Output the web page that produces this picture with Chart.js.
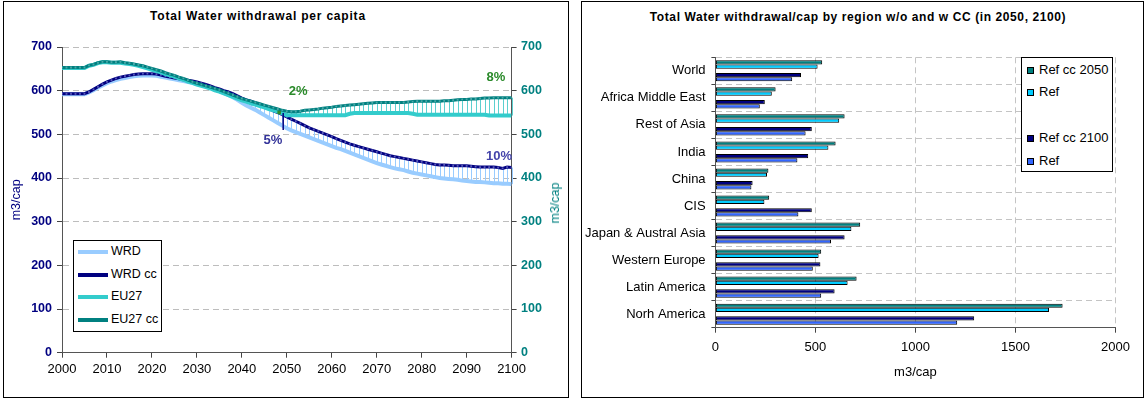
<!DOCTYPE html>
<html>
<head>
<meta charset="utf-8">
<script src="https://cdn.jsdelivr.net/npm/chart.js@4.4.1/dist/chart.umd.min.js"></script>
<style>
  html, body { margin: 0; padding: 0; background: #fff; width: 1146px; height: 399px; overflow: hidden;
    font-family: "Liberation Sans", Arial, sans-serif; }
  .panel { position: absolute; border: 1px solid #000; box-sizing: border-box; }
  .cv { position: absolute; }
  .title { position: absolute; font-weight: bold; white-space: nowrap; transform: translateX(-50%); color: #000; font-size: 12px; line-height: 14px; }
  .legend { position: absolute; border: 1px solid #000; box-sizing: border-box; background: #fff; }
  .item { position: absolute; white-space: nowrap; color: #000; }
  .ln { position: absolute; height: 4px; width: 30px; }
  .sw { position: absolute; width: 7px; height: 7px; border: 1px solid #000; box-sizing: border-box; }
  .vtitle { position: absolute; white-space: nowrap; transform: translate(-50%, -50%) rotate(-90deg); font-size: 12.5px; }
</style>
</head>
<body>
<div class="panel" style="left:3px;top:1px;width:566px;height:397px;"></div>
<div class="panel" style="left:581px;top:1px;width:563px;height:397px;"></div>

<div class="title" style="left:258px;top:9px;letter-spacing:0.8px;">Total Water withdrawal per capita</div>
<div class="title" style="left:858px;top:10px;letter-spacing:0.6px;">Total Water withdrawal/cap by region w/o and w CC (in 2050, 2100)</div>

<div class="cv" style="left:4px;top:3px;"><canvas id="c1" width="563" height="393"></canvas></div>
<div class="cv" style="left:582px;top:3px;"><canvas id="c2" width="560" height="393"></canvas></div>

<div class="vtitle" style="left:555px;top:203px;color:#008080;">m3/cap</div>

<!-- legend of the per-capita line chart -->
<div class="legend" style="left:73px;top:240px;width:89px;height:92px;">
  <div class="ln" style="left:4px;top:9px;background:#99CCFF;"></div><div class="item" style="left:37px;top:3px;font-size:12.5px;">WRD</div>
  <div class="ln" style="left:4px;top:32px;background:#000080;"></div><div class="item" style="left:37px;top:26px;font-size:12.5px;">WRD cc</div>
  <div class="ln" style="left:4px;top:54px;background:#33CCCC;"></div><div class="item" style="left:37px;top:48px;font-size:12.5px;">EU27</div>
  <div class="ln" style="left:4px;top:77px;background:#008080;"></div><div class="item" style="left:37px;top:71px;font-size:12.5px;">EU27 cc</div>
</div>

<!-- legend of the regional bar chart -->
<div class="legend" style="left:1021px;top:57px;width:92px;height:115px;">
  <div class="sw" style="left:5px;top:9px;background:#008080;"></div><div class="item" style="left:17px;top:4px;font-size:13px;">Ref cc 2050</div>
  <div class="sw" style="left:5px;top:31px;background:#00CCFF;"></div><div class="item" style="left:17px;top:26px;font-size:13px;">Ref</div>
  <div class="sw" style="left:5px;top:77px;background:#000080;"></div><div class="item" style="left:17px;top:72px;font-size:13px;">Ref cc 2100</div>
  <div class="sw" style="left:5px;top:100px;background:#3366FF;"></div><div class="item" style="left:17px;top:95px;font-size:13px;">Ref</div>
</div>

<script>
// ---- per-capita withdrawal, yearly 2000-2100 (m3/cap) ----
const years = Array.from({ length: 101 }, (_, i) => 2000 + i);

const wrd = [592,592,592,592,592,592, 596,601,607,612,617,
  621,624,627,629,631,633,634,635,635,635,
  634,632,630,628,626,624,622,620,618,616,
  613,610,607,603,599,595,590,585,579,572,
  566,561,556,550,544,538,532,526,520,514,
  509,505,501,497,493,489,485,481,477,473,
  469,466,462,458,454,450,446,442,438,434,
  431,428,425,422,420,418,415,412,410,408,
  406,404,402,400,399,398,397,396,394,393,
  392,391,391,390,389,388,388,387,387,386];

const wrdCc = [593,593,593,593,593,593, 597,603,609,615,620,
  624,628,631,633,635,637,638,639,639,639,
  638,636,633,631,629,627,625,624,622,620,
  617,614,611,607,604,600,597,593,588,583,
  579,576,572,568,563,559,554,550,545,540,
  535,530,525,520,515,511,507,503,499,495,
  490,486,482,478,475,472,469,466,463,460,
  457,454,451,449,447,445,443,441,439,437,
  435,433,431,430,430,429,428,428,428,428,
  427,426,425,425,425,425,424,422,425,424];

const eu27 = [652,652,652,652,652,652, 657,659,663,665,665,
  664,664,664,662,661,659,657,654,651,648,
  645,642,638,635,632,628,625,621,618,614,
  611,608,605,601,598,594,590,586,582,578,
  575,571,568,565,562,558,555,552,548,544,
  544,544,544,544,544,544,544,544,544,544,
  544,544,544,547,549,549,549,549,549,549,
  549,549,549,549,549,549,549,547,545,545,
  545,545,545,545,545,545,545,545,545,545,
  545,545,545,545,543,543,543,543,543,543];

const eu27Cc = [653,653,653,653,653,653, 658,660,664,666,666,
  665,665,666,664,663,661,659,657,654,651,
  648,645,641,638,635,631,628,624,620,617,
  614,611,608,605,602,598,594,590,586,582,
  579,576,573,570,567,564,561,558,555,553,
  552,552,553,555,556,557,558,560,561,562,
  564,565,566,567,568,569,570,571,572,573,
  573,573,573,573,573,573,574,575,576,576,
  576,576,576,576,577,577,578,579,580,580,
  581,581,582,583,583,584,584,584,584,584];

// callout marks near 2050
const leaderLine = [{ x: 2049.2, y: 549 }, { x: 2049.2, y: 510 }];
const eu27Marker = [{ x: 2048.3, y: 550 }];

// ---- regional withdrawal per capita (m3/cap) ----
const regions = ['World', 'Africa Middle East', 'Rest of Asia', 'India', 'China', 'CIS',
  'Japan & Austral Asia', 'Western Europe', 'Latin America', 'Norh America'];
const refCc2050 = [534, 301, 646, 601, 265, 269, 724, 529, 706, 1736];
const ref2050   = [511, 282, 619, 565, 258, 245, 680, 516, 661, 1668];
const refCc2100 = [428, 247, 482, 464, 186, 482, 646, 525, 596, 1294];
const ref2100   = [384, 222, 451, 410, 180, 415, 578, 487, 529, 1209];

const yTicks = [0, 100, 200, 300, 400, 500, 600, 700];

Chart.defaults.font.family = '"Liberation Sans", Arial, sans-serif';
Chart.defaults.animation = false;

const toXY = vals => vals.map((v, i) => ({ x: years[i], y: v }));

// high-low lines between each scenario pair
const dropLines = {
  id: 'dropLines',
  beforeDatasetsDraw(chart) {
    const ctx = chart.ctx;
    const pairs = [[0, 1, '#99CCFF'], [2, 3, '#5ccfcf']];
    ctx.save();
    ctx.lineWidth = 1;
    for (const [a, b, col] of pairs) {
      const pa = chart.getDatasetMeta(a).data, pb = chart.getDatasetMeta(b).data;
      ctx.strokeStyle = col;
      ctx.beginPath();
      for (let i = 0; i < pa.length; i++) {
        const x = Math.round(pa[i].x) + 0.5;
        ctx.moveTo(x, pa[i].y);
        ctx.lineTo(x, pb[i].y);
      }
      ctx.stroke();
    }
    ctx.restore();
  }
};

// percentage increase labels (cc vs reference)
const pctNotes = [
  { ref: wrd, cc: wrdCc, year: 2050, at: [2046.9, 485], color: '#333399' },
  { ref: wrd, cc: wrdCc, year: 2100, at: [2097.2, 450], color: '#4444aa' },
  { ref: eu27, cc: eu27Cc, year: 2050, at: [2052.5, 599], color: '#2a8a2a' },
  { ref: eu27, cc: eu27Cc, year: 2100, at: [2096.5, 631], color: '#2a8a2a' }
];
const pctLabels = {
  id: 'pctLabels',
  afterDatasetsDraw(chart) {
    const ctx = chart.ctx, xs = chart.scales.x, ys = chart.scales.y;
    ctx.save();
    ctx.font = 'bold 13px "Liberation Sans", Arial, sans-serif';
    ctx.textAlign = 'center';
    ctx.textBaseline = 'middle';
    for (const n of pctNotes) {
      const i = years.indexOf(n.year);
      const pct = Math.round((n.cc[i] / n.ref[i] - 1) * 100);
      ctx.fillStyle = n.color;
      ctx.fillText(pct + '%', xs.getPixelForValue(n.at[0]), ys.getPixelForValue(n.at[1]));
    }
    ctx.restore();
  }
};

new Chart(document.getElementById('c1'), {
  type: 'line',
  data: {
    datasets: [
      { label: 'WRD', data: toXY(wrd), borderColor: '#99CCFF', borderWidth: 4, pointRadius: 0, order: 6, yAxisID: 'y' },
      { label: 'WRD cc', data: toXY(wrdCc), borderColor: '#000080', borderWidth: 3, pointStyle: 'rect',
        pointRadius: 1.3, pointBackgroundColor: '#5a5ab8', pointBorderWidth: 0, order: 5, yAxisID: 'y' },
      { label: 'EU27', data: toXY(eu27), borderColor: '#33CCCC', borderWidth: 4, pointRadius: 0, order: 4, yAxisID: 'y2' },
      { label: 'EU27 cc', data: toXY(eu27Cc), borderColor: '#008080', borderWidth: 3, pointStyle: 'rect',
        pointRadius: 1.3, pointBackgroundColor: '#4aa8a8', pointBorderWidth: 0, order: 3, yAxisID: 'y2' },
      { label: 'leader', data: leaderLine, borderColor: '#000080', borderWidth: 1.5, pointRadius: 0, order: 1, yAxisID: 'y' },
      { label: 'marker', data: eu27Marker, showLine: false, pointStyle: 'rect', pointRadius: 2.5,
        pointBackgroundColor: '#2e8b2e', pointBorderWidth: 0, order: 2, yAxisID: 'y2' }
    ]
  },
  options: {
    responsive: false,
    layout: { padding: { top: 44, left: 0, right: 0, bottom: 0 } },
    plugins: { legend: { display: false }, tooltip: { enabled: false } },
    elements: { line: { tension: 0 } },
    scales: {
      x: {
        type: 'linear', min: 2000, max: 2100,
        ticks: { stepSize: 10, callback: v => String(v), color: '#000', font: { size: 13 }, padding: 3.5, maxRotation: 0, autoSkip: false },
        grid: { drawOnChartArea: false, tickLength: 5, tickColor: '#444' },
        border: { color: '#555', width: 1 },
        afterFit: s => { s.height = 43.3; }
      },
      y: {
        position: 'left', min: 0, max: 700,
        afterBuildTicks: s => { s.ticks = yTicks.map(v => ({ value: v })); },
        ticks: { color: '#000080', font: { size: 12.5, weight: 'bold' }, padding: 5 },
        grid: { color: '#bdbdbd', tickLength: 5, tickColor: '#444', tickBorderDash: [] },
        border: { color: '#555', width: 1, dash: [6, 4] },
        title: { display: true, text: 'm3/cap', color: '#000080', font: { size: 12.5 }, padding: { top: 5.5, bottom: 0 } },
        afterFit: s => { s.width = 58; }
      },
      y2: {
        position: 'right', min: 0, max: 700,
        afterBuildTicks: s => { s.ticks = yTicks.map(v => ({ value: v })); },
        ticks: { color: '#008080', font: { size: 12.5, weight: 'bold' }, padding: 4.4 },
        grid: { drawOnChartArea: false, tickLength: 5, tickColor: '#444' },
        border: { color: '#555', width: 1 },
        afterFit: s => { s.width = 55.4; }
      }
    }
  },
  plugins: [dropLines, pctLabels]
});

new Chart(document.getElementById('c2'), {
  type: 'bar',
  data: {
    labels: regions,
    datasets: [
      { label: 'Ref cc 2050', data: refCc2050, backgroundColor: '#008080' },
      { label: 'Ref', data: ref2050, backgroundColor: '#00CCFF' },
      { label: '', data: regions.map(() => null), backgroundColor: 'rgba(0,0,0,0)' },
      { label: 'Ref cc 2100', data: refCc2100, backgroundColor: '#000080' },
      { label: 'Ref', data: ref2100, backgroundColor: '#3366FF' }
    ]
  },
  options: {
    responsive: false,
    indexAxis: 'y',
    layout: { padding: { top: 54.3, left: 0, right: 26.6, bottom: 0 } },
    datasets: { bar: { categoryPercentage: 0.78, barPercentage: 1, borderColor: '#000', borderWidth: 1, borderSkipped: false } },
    plugins: { legend: { display: false }, tooltip: { enabled: false } },
    scales: {
      x: {
        min: 0, max: 2000,
        ticks: { stepSize: 500, callback: v => String(v), color: '#000', font: { size: 13 }, padding: 6.5, maxRotation: 0 },
        grid: { color: '#c4c4c4', tickLength: 5, tickColor: '#444', tickBorderDash: [] },
        border: { color: '#555', width: 1, dash: [6, 4] },
        title: { display: true, text: 'm3/cap', color: '#000', font: { size: 13 }, padding: { top: 0, bottom: 16.2 } },
        afterFit: s => { s.height = 68.3; }
      },
      y: {
        ticks: { color: '#000', font: { size: 13 }, padding: 5.8, autoSkip: false },
        grid: { color: '#c4c4c4', tickLength: 4, tickColor: '#444', tickBorderDash: [] },
        border: { color: '#555', width: 1, dash: [6, 4] },
        afterFit: s => { s.width = 133.4; }
      }
    }
  }
});
</script>
</body>
</html>
